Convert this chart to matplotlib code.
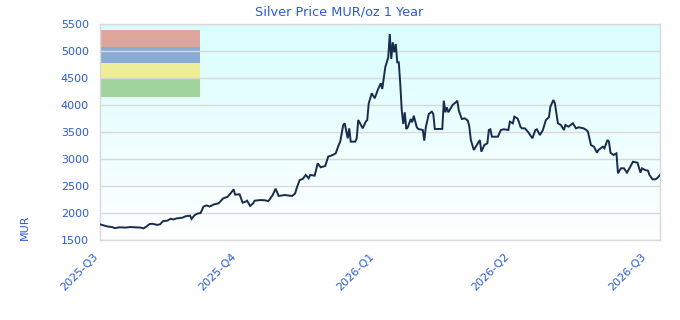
import matplotlib
matplotlib.use("Agg")
import matplotlib.pyplot as plt
import matplotlib.transforms as mtransforms
import numpy as np
import pandas as pd
from matplotlib.patches import Rectangle

title = "Silver Price MUR/oz 1 Year"
y_label = "MUR"
start_date = "2025-07-01"
end_date = "2026-07-09"
quarter_ticks = ["2025-07-01", "2025-10-01", "2026-01-01", "2026-04-01", "2026-07-01"]
quarter_labels = ["2025-Q3", "2025-Q4", "2026-Q1", "2026-Q2", "2026-Q3"]
y_ticks = [1500, 2000, 2500, 3000, 3500, 4000, 4500, 5000, 5500]

# days since start_date
days = [0, 3, 5, 8, 10, 13, 17, 20, 23, 27, 29, 31, 33, 35, 38, 40, 42, 45, 47, 49,
        51, 55, 57, 60, 61, 63, 65, 67, 69, 71, 73, 76, 79, 80, 82, 85, 87, 89, 90, 92,
        93, 95, 97, 98, 100, 102, 103, 107, 110, 112, 113, 115, 117, 119, 121, 123, 127, 128, 130, 131,
        133, 135, 137, 139, 140, 143, 145, 147, 150, 152, 155, 157, 159, 160, 162, 163, 165, 166, 167, 170,
        171, 172, 175, 177, 178, 179, 181, 183, 185, 187, 188, 190, 192, 193, 194, 195, 196, 197, 198, 199,
        200, 201, 202, 203, 204, 205, 207, 208, 209, 211, 212, 215, 216, 217, 219, 221, 222, 223, 228, 229,
        230, 231, 232, 235, 237, 238, 239, 241, 243, 245, 246, 247, 249, 251, 253, 254, 256, 258, 259, 260,
        261, 265, 267, 269, 272, 273, 275, 276, 278, 279, 280, 281, 283, 285, 288, 290, 291, 293, 295, 297,
        299, 300, 301, 302, 303, 305, 307, 309, 310, 312, 315, 317, 319, 322, 324, 325, 327, 329, 331, 332,
        335, 336, 338, 339, 340, 342, 344, 345, 347, 349, 351, 353, 355, 358, 360, 361, 363, 365, 366, 368,
        370, 371, 373]
prices = [1790, 1765, 1750, 1740, 1720, 1735, 1730, 1740, 1735, 1730, 1715, 1750, 1796, 1800, 1780, 1790, 1850, 1860, 1894, 1880,
          1900, 1914, 1940, 1950, 1890, 1960, 1990, 2000, 2120, 2140, 2120, 2160, 2180, 2209, 2270, 2300, 2364, 2438, 2340, 2345,
          2346, 2191, 2210, 2228, 2130, 2180, 2228, 2240, 2235, 2220, 2250, 2333, 2450, 2315, 2325, 2333, 2320, 2315, 2364, 2460,
          2611, 2630, 2704, 2642, 2704, 2691, 2920, 2846, 2870, 3043, 3074, 3105, 3259, 3321, 3630, 3661, 3383, 3568, 3321, 3321,
          3383, 3722, 3568, 3691, 3722, 4031, 4216, 4124, 4278, 4402, 4296, 4698, 4883, 5315, 4852, 5161, 4976, 5130, 4791, 4791,
          4389, 3895, 3648, 3865, 3556, 3587, 3741, 3680, 3802, 3587, 3556, 3537, 3339, 3587, 3833, 3876, 3833, 3556, 3556, 4080,
          3865, 3957, 3865, 4006, 4050, 4080, 3895, 3741, 3753, 3710, 3598, 3352, 3167, 3259, 3352, 3136, 3259, 3290, 3537, 3550,
          3413, 3413, 3537, 3550, 3537, 3691, 3661, 3784, 3753, 3691, 3598, 3568, 3568, 3506, 3383, 3537, 3550, 3444, 3537, 3722,
          3772, 3969, 4031, 4093, 4031, 3661, 3630, 3537, 3630, 3598, 3661, 3568, 3587, 3568, 3537, 3506, 3259, 3228, 3117, 3167,
          3228, 3198, 3352, 3321, 3117, 3074, 3105, 2735, 2828, 2828, 2747, 2846, 2950, 2932, 2747, 2828, 2796, 2784, 2704, 2624,
          2624, 2642, 2704]

legend_colors = ["#dea59c", "#8aabd5", "#eeed98", "#a0d49c"]

blue = "#2a5bd7"
line_color = "#172b4d"
grid_color = "#d9d9d9"

fig = plt.figure(figsize=(6.8, 3.2), dpi=100)
ax = fig.add_axes([100 / 680, 80 / 320, 560 / 680, 216 / 320])

t0 = pd.Timestamp(start_date)
dates = [t0 + pd.Timedelta(days=d) for d in days]

# gradient background
grad = np.linspace(0, 1, 256).reshape(-1, 1)
top_c = np.array([0.85, 0.995, 0.995])
bot_c = np.array([1.0, 1.0, 1.0])
img = top_c * (1 - grad[..., None]) + bot_c * grad[..., None]
img = np.repeat(img, 2, axis=1)
ax.imshow(img, extent=[0, 1, 0, 1], transform=ax.transAxes, aspect="auto", zorder=0)

ax.plot(dates, prices, color=line_color, lw=1.4, zorder=3, solid_joinstyle="miter")

ax.set_xlim(t0, pd.Timestamp(end_date))
ax.set_ylim(1500, 5500)
ax.set_yticks(y_ticks)
ax.set_yticklabels([str(v) for v in y_ticks])
ax.set_xticks([pd.Timestamp(q) for q in quarter_ticks])
ax.set_xticklabels(quarter_labels, rotation=45, ha="right", va="top", rotation_mode="anchor")

ax.tick_params(axis="both", length=0, labelsize=8, labelcolor=blue)
ax.tick_params(axis="x", pad=5)
ax.tick_params(axis="y", pad=8)
ax.yaxis.grid(True, color=grid_color, lw=1, zorder=1)
ax.xaxis.grid(False)
ax.set_axisbelow(False)
for s in ax.spines.values():
    s.set_color(grid_color)
    s.set_linewidth(1)

offset = mtransforms.ScaledTranslation(-7 / 100, -4 / 100, fig.dpi_scale_trans)
for lab in ax.get_xticklabels():
    lab.set_transform(lab.get_transform() + offset)

# legend-like color blocks
bands = [(0.894, 0.972), (0.819, 0.894), (0.745, 0.819), (0.662, 0.745)]
for (y0, y1), c in zip(bands, legend_colors):
    ax.add_patch(Rectangle((0, y0), 0.179, y1 - y0, transform=ax.transAxes,
                           facecolor=c, edgecolor="none", zorder=1.5))

fig.text(339 / 680, 1 - 12 / 320, title, ha="center", va="center", color=blue, fontsize=9.3)
fig.text(25 / 680, 1 - 227 / 320, y_label, ha="center", va="center", rotation=90, color=blue, fontsize=8)

fig.savefig("out.png", dpi=100)
